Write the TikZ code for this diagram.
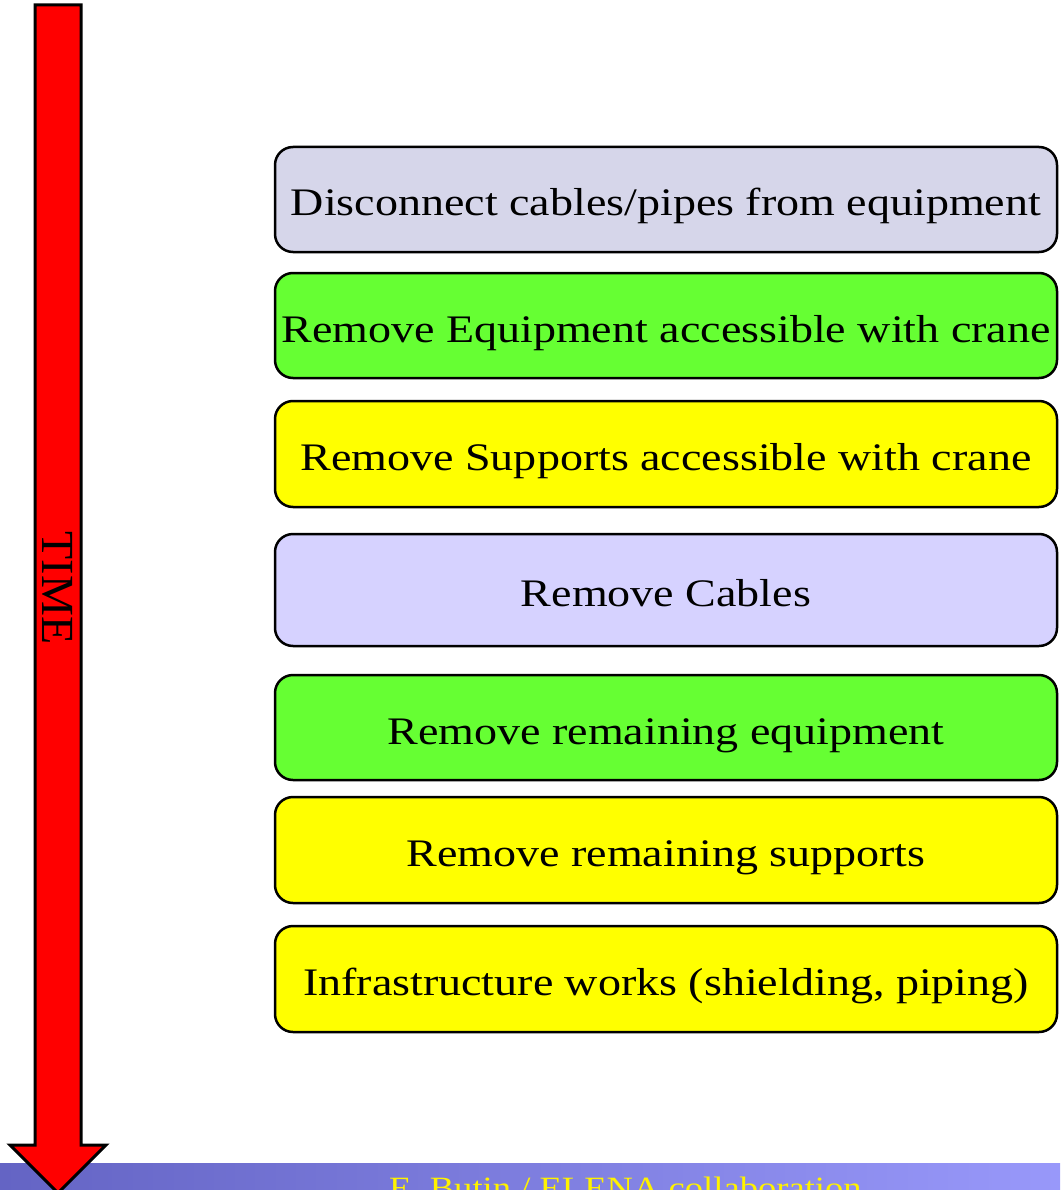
\documentclass[tikz,border=0pt]{standalone}
\usepackage{fontspec}
\setmainfont{Liberation Serif}[FakeStretch=1.18]
\newfontfamily\timefont{Liberation Serif}
\definecolor{lavgray}{HTML}{D6D6EA}
\definecolor{lavblue}{HTML}{D6D2FF}
\definecolor{boxgreen}{HTML}{66FF33}
\definecolor{boxyellow}{HTML}{FFFF00}
\definecolor{bandleft}{RGB}{100,100,196}
\definecolor{bandright}{RGB}{152,152,250}
\definecolor{arrowred}{HTML}{FF0000}
\tikzset{
  stepbox/.style={draw=black, line width=2.5pt, rounded corners=18pt,
    minimum width=782pt, inner sep=0pt},
  boxtext/.style={anchor=base, inner sep=0pt, font=\fontsize{39}{44}\selectfont},
}
\begin{document}
\begin{tikzpicture}[x=1pt,y=-1pt]
\useasboundingbox (0,0) rectangle (1060,1190);
\clip (0,0) rectangle (1060,1190);
% bottom band
\shade[left color=bandleft, right color=bandright] (0,1163) rectangle (1060,1190);
\node[anchor=base west, inner sep=0pt, text=yellow, font=\fontsize{31}{36}\selectfont] (foot) at (389,1198) {E. Butin / ELENA collaboration};
% time arrow
\draw[line width=3pt, fill=arrowred, line join=miter]
  (35,5) -- (81,5) -- (81,1145) -- (106,1145) -- (58,1193) -- (10,1145) -- (35,1145) -- cycle;
\node[rotate=-90, inner sep=0pt, font=\timefont\fontsize{46}{50}\selectfont] (time) at (58,588) {TIME};
% boxes
\node[stepbox, fill=lavgray, minimum height=105pt] (b1) at (666,199.5) {};
\node[boxtext] (t1) at ([yshift=-16.5pt]b1.center) {Disconnect cables/pipes from equipment};
\node[stepbox, fill=boxgreen, minimum height=105pt] (b2) at (666,325.5) {};
\node[boxtext] (t2) at ([yshift=-16.5pt]b2.center) {Remove Equipment accessible with crane};
\node[stepbox, fill=boxyellow, minimum height=106pt] (b3) at (666,454) {};
\node[boxtext] (t3) at ([yshift=-16.5pt]b3.center) {Remove Supports accessible with crane};
\node[stepbox, fill=lavblue, minimum height=112pt] (b4) at (666,590) {};
\node[boxtext] (t4) at ([yshift=-16.5pt]b4.center) {Remove Cables};
\node[stepbox, fill=boxgreen, minimum height=105pt] (b5) at (666,727.5) {};
\node[boxtext] (t5) at ([yshift=-16.5pt]b5.center) {Remove remaining equipment};
\node[stepbox, fill=boxyellow, minimum height=106pt] (b6) at (666,850) {};
\node[boxtext] (t6) at ([yshift=-16.5pt]b6.center) {Remove remaining supports};
\node[stepbox, fill=boxyellow, minimum height=106pt] (b7) at (666,979) {};
\node[boxtext] (t7) at ([yshift=-16.5pt]b7.center) {Infrastructure works (shielding, piping)};
\end{tikzpicture}
\end{document}
